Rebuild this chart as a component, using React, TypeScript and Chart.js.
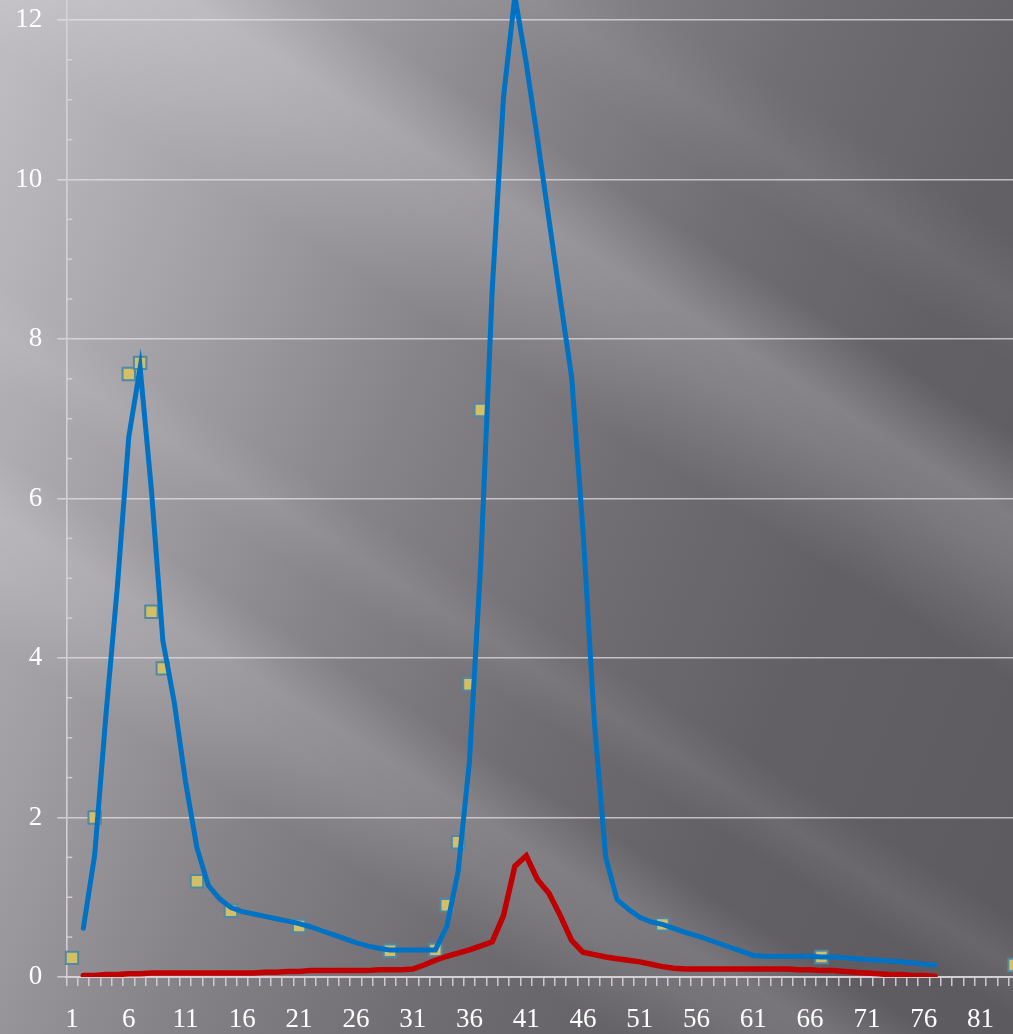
import { useEffect, useRef } from 'react';
import { Chart, registerables } from 'chart.js';

Chart.register(...registerables);

// category labels 1..84
const categories: string[] = Array.from({ length: 84 }, (_, i) => String(i + 1));

// blue series, categories 1..77
const blueValues: (number | null)[] = [
  null, 0.61, 1.53, 3.3, 4.9, 6.77, 7.64, 6.1, 4.22, 3.45,
  2.45, 1.62, 1.15, 0.98, 0.87, 0.82, 0.79, 0.76, 0.73, 0.7,
  0.67, 0.63, 0.58, 0.53, 0.48, 0.43, 0.39, 0.36, 0.34, 0.34,
  0.34, 0.34, 0.34, 0.63, 1.32, 2.7, 5.2, 8.6, 11.03, 12.3,
  11.46, 10.5, 9.5, 8.5, 7.52, 5.6, 3.2, 1.5, 0.97, 0.85,
  0.75, 0.69, 0.66, 0.61, 0.56, 0.52, 0.47, 0.42, 0.37, 0.32,
  0.27, 0.26, 0.26, 0.26, 0.26, 0.26, 0.25, 0.25, 0.24, 0.23,
  0.22, 0.21, 0.2, 0.19, 0.18, 0.16, 0.15,
];

// red series, categories 1..77
const redValues: (number | null)[] = [
  null, 0.02, 0.02, 0.03, 0.03, 0.04, 0.04, 0.05, 0.05, 0.05,
  0.05, 0.05, 0.05, 0.05, 0.05, 0.05, 0.05, 0.06, 0.06, 0.07,
  0.07, 0.08, 0.08, 0.08, 0.08, 0.08, 0.08, 0.09, 0.09, 0.09,
  0.1, 0.15, 0.21, 0.26, 0.3, 0.34, 0.39, 0.44, 0.77, 1.39,
  1.52, 1.22, 1.05, 0.77, 0.46, 0.31, 0.28, 0.25, 0.23, 0.21,
  0.19, 0.16, 0.13, 0.11, 0.1, 0.1, 0.1, 0.1, 0.1, 0.1,
  0.1, 0.1, 0.1, 0.1, 0.09, 0.09, 0.08, 0.08, 0.07, 0.06,
  0.05, 0.04, 0.03, 0.03, 0.02, 0.02, 0.01,
];

// measured points (squares)
const pointCategories: number[] = [1, 3, 6, 7, 8, 9, 12, 15, 21, 29, 33, 34, 35, 36, 37, 53, 67, 84];
const pointValues: number[] = [0.24, 2.0, 7.56, 7.7, 4.58, 3.87, 1.2, 0.83, 0.64, 0.33, 0.34, 0.9, 1.69, 3.67, 7.11, 0.66, 0.25, 0.15];

const yTickLabels = ['0', '2', '4', '6', '8', '10', '12'];

const GRID = 'rgba(228,226,231,0.72)';
const AXIS = 'rgba(214,212,217,0.9)';
const FONT = "'Liberation Serif', 'Times New Roman', serif";

const minorTicks = {
  id: 'minorTicks',
  afterDraw(chart: any) {
    const y = chart.scales.y;
    const ctx = chart.ctx;
    const x0 = chart.chartArea.left;
    ctx.save();
    ctx.strokeStyle = AXIS;
    ctx.lineWidth = 1.5;
    y.ticks.forEach((t: any) => {
      if (t.value % 2 !== 0) {
        const py = y.getPixelForValue(t.value);
        ctx.beginPath();
        ctx.moveTo(x0, py);
        ctx.lineTo(x0 + 6, py);
        ctx.stroke();
      }
    });
    ctx.restore();
  },
};

function PeakChart() {
  const chartRef = useRef<HTMLCanvasElement>(null);
  const chartInstance = useRef<Chart | null>(null);

  useEffect(() => {
    if (!chartRef.current) return;
    if (chartInstance.current) chartInstance.current.destroy();
    const ctx = chartRef.current.getContext('2d');
    if (!ctx) return;

    const scatter: (number | null)[] = categories.map(() => null);
    pointCategories.forEach((c, i) => {
      scatter[c - 1] = pointValues[i];
    });

    chartInstance.current = new Chart(ctx, {
      type: 'line',
      data: {
        labels: categories,
        datasets: [
          {
            data: redValues,
            borderColor: '#c00000',
            borderWidth: 5.5,
            pointRadius: 0,
            borderCapStyle: 'round',
            order: 2,
          },
          {
            data: blueValues,
            borderColor: '#0072c4',
            borderWidth: 5,
            pointRadius: 0,
            borderCapStyle: 'round',
            order: 1,
          },
          {
            data: scatter,
            showLine: false,
            pointStyle: 'rect',
            pointRadius: 8.8,
            pointBackgroundColor: '#d4bf68',
            pointBorderColor: '#4f89a3',
            pointBorderWidth: 2,
            order: 3,
            clip: false,
          },
        ],
      },
      options: {
        animation: false,
        responsive: true,
        maintainAspectRatio: false,
        layout: { autoPadding: false, padding: { left: 0, top: 0, right: 0.8, bottom: 0 } },
        plugins: {
          legend: { display: false },
          tooltip: { enabled: false },
        },
        scales: {
          x: {
            type: 'category',
            offset: true,
            grid: {
              offset: true,
              drawOnChartArea: false,
              drawTicks: true,
              tickLength: 9,
              color: AXIS,
              lineWidth: 1.5,
            },
            border: { display: true, color: AXIS, width: 2 },
            ticks: {
              autoSkip: false,
              maxRotation: 0,
              minRotation: 0,
              padding: 18,
              color: '#ffffff',
              font: { family: FONT, size: 27 },
              callback: (_v: any, idx: number) => (idx % 5 === 0 ? categories[idx] : ''),
            },
            afterFit: (s: any) => {
              s.height = 57;
              s.paddingLeft = 0;
              s.paddingRight = 0;
            },
          },
          y: {
            min: 0,
            max: 12.25,
            grid: {
              color: (c: any) => (c.tick && c.tick.value % 2 === 0 ? GRID : 'rgba(0,0,0,0)'),
              lineWidth: 1.6,
              tickLength: 9,
            },
            border: { display: true, color: AXIS, width: 1.6 },
            ticks: {
              stepSize: 0.5,
              includeBounds: false,
              padding: 15,
              color: '#ffffff',
              font: { family: FONT, size: 27 },
              callback: (v: any) => (v % 2 === 0 ? yTickLabels[v / 2] : ''),
            },
            afterFit: (s: any) => {
              s.width = 66.3;
              s.paddingTop = 0;
              s.paddingBottom = 0;
            },
          },
        },
      },
      plugins: [minorTicks],
    });

    return () => {
      if (chartInstance.current) {
        chartInstance.current.destroy();
        chartInstance.current = null;
      }
    };
  }, []);

  return <canvas ref={chartRef} />;
}

export default function App() {
  const bg = [
    'linear-gradient(32deg, rgba(255,255,255,0) 23%, rgba(255,255,255,0.12) 28%, rgba(255,255,255,0.15) 31%, rgba(255,255,255,0) 35%)',
    'linear-gradient(32deg, rgba(255,255,255,0) 39%, rgba(255,255,255,0.07) 42%, rgba(255,255,255,0) 45%)',
    'linear-gradient(32deg, rgba(255,255,255,0) 59%, rgba(255,255,255,0.16) 66%, rgba(255,255,255,0.2) 69%, rgba(255,255,255,0) 74%)',
    'linear-gradient(32deg, rgba(255,255,255,0) 78%, rgba(255,255,255,0.06) 82%, rgba(255,255,255,0) 86%)',
    'linear-gradient(112deg, #c0bec3 0%, #a2a0a5 22%, #858388 40%, #6f6d72 58%, #626065 75%, #5c5a5f 100%)',
  ].join(', ');

  return (
    <div
      style={{
        position: 'fixed',
        left: 0,
        top: 0,
        width: 1013,
        height: 1034,
        overflow: 'hidden',
        background: bg,
      }}
    >
      <div style={{ position: 'absolute', left: 0, top: 0, width: 1021, height: 1034 }}>
        <PeakChart />
      </div>
    </div>
  );
}
